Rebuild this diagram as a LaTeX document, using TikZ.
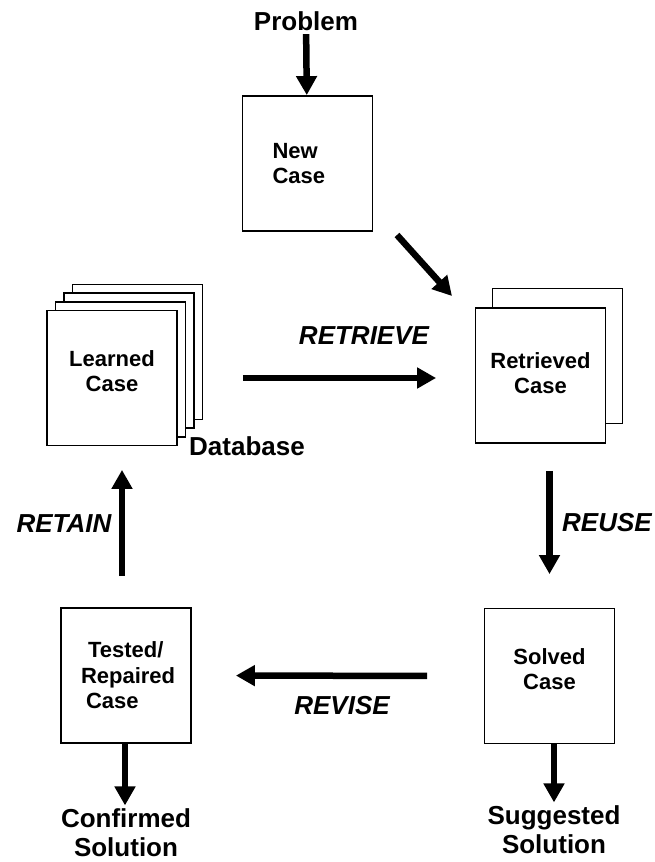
\documentclass[tikz,border=0pt]{standalone}
\usepackage{fontspec}
\setmainfont{Liberation Sans}
\usetikzlibrary{arrows.meta}
\begin{document}
\begin{tikzpicture}[x=1pt,y=-1pt,
    casebox/.style={draw,line width=1.8pt,fill=white,minimum width=130pt,minimum height=135pt,align=center,font=\fontsize{22}{25.5}\selectfont\bfseries},
    tag/.style={align=center,font=\fontsize{26}{29}\selectfont\bfseries},
    phase/.style={font=\fontsize{26}{30}\selectfont\bfseries\itshape},
    flow/.style={line width=6.5pt,-{Triangle[width=20pt,length=19pt]}}]
  \useasboundingbox (0,0) rectangle (655,862);

  \node[casebox,align=left,text width=70pt] (newcase) at (307.5,163.5) {New\\Case};

  \node[casebox] (learned3) at (137.5,351.9) {};
  \node[casebox] (learned2) at (129,360.6) {};
  \node[casebox] (learned1) at (120.5,369.3) {};
  \node[casebox,text depth=14pt] (learned) at (112,378) {Learned\\Case};

  \node[casebox] (retrievedback) at (557.5,356) {};
  \node[casebox,text depth=5pt] (retrieved) at (540.5,375.5) {Retrieved\\Case};

  \node[casebox,align=left,text width=90pt] (tested) at (126,675.5) {\hspace*{7pt}Tested/\\Repaired\\\hspace*{5pt}Case};
  \node[casebox,text depth=14pt] (solved) at (549.5,676) {Solved\\Case};

  \node[tag] (problem) at (306,21) {Problem};
  \node[tag] (database) at (247,446) {Database};
  \node[tag] (confirmed) at (126,833) {Confirmed\\Solution};
  \node[tag] (suggested) at (554,830) {Suggested\\Solution};

  \node[phase] (retrieve) at (364,336) {RETRIEVE};
  \node[phase] (retain) at (64,524) {RETAIN};
  \node[phase] (reuse) at (607,523) {REUSE};
  \node[phase] (revise) at (342,706) {REVISE};

  \coordinate (newtail) at (397,235);
  \coordinate (newtip) at (452,296);

  \draw[flow] (problem) -- (newcase);
  \draw[flow] (newtail) -- (newtip);
  \draw[flow,shorten <=65pt,shorten >=38.5pt] (learned.east) -- (learned.east -| retrieved.west);
  \draw[flow,shorten <=27pt,shorten >=33.5pt] (solved.north |- retrieved.south) -- (solved.north);
  \draw[flow,shorten <=56.5pt,shorten >=44pt] (solved.west) -- (tested.east);
  \draw[flow,shorten <=31pt,shorten >=23.5pt] ([xshift=-4pt]tested.north) -- ([xshift=-4pt]tested.north |- learned.south);
  \draw[flow] ([xshift=-1pt]tested.south) -- ([xshift=-1pt]tested.south |- confirmed.north);
  \draw[flow] (suggested.north |- solved.south) -- (suggested.north);
\end{tikzpicture}
\end{document}
